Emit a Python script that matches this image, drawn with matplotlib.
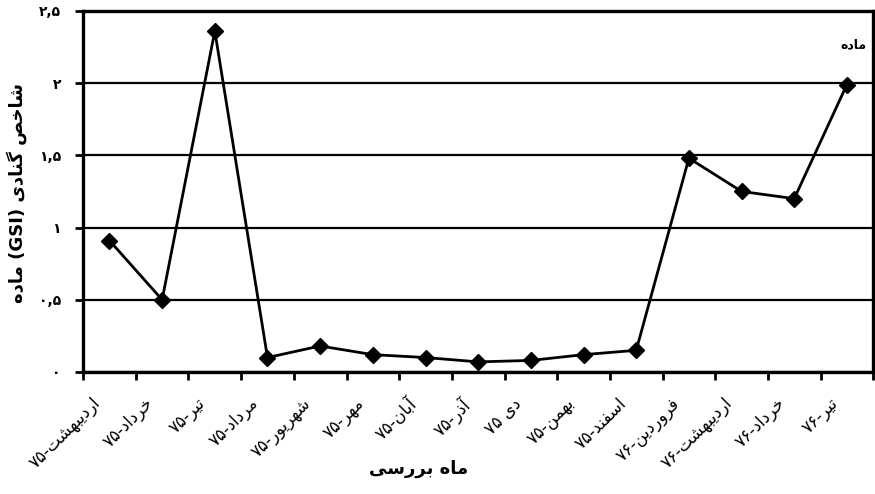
import re
import matplotlib
matplotlib.use('Agg')
import matplotlib.pyplot as plt
import numpy as np

# months of the study (logical Persian text)
months = ['اردیبهشت-۷۵', 'خرداد-۷۵', 'تیر-۷۵', 'مرداد-۷۵', 'شهریور-۷۵',
          'مهر-۷۵', 'آبان-۷۵', 'آذر-۷۵', 'دی ۷۵', 'بهمن-۷۵', 'اسفند-۷۵',
          'فروردین-۷۶', 'اردیبهشت-۷۶', 'خرداد-۷۶', 'تیر-۷۶']
gsi_female = [0.91, 0.50, 2.36, 0.10, 0.18, 0.12, 0.10, 0.07, 0.08,
              0.12, 0.15, 1.48, 1.25, 1.20, 1.99]
yticks = [0, 0.5, 1, 1.5, 2, 2.5]
ytick_labels = ['۰', '۰,۵', '۱', '۱,۵', '۲', '۲,۵']
ylabel = 'شاخص گنادی (GSI) ماده'
xlabel = 'ماه بررسی'
series_name = 'ماده'

# matplotlib has no arabic shaping, so do it by hand with presentation forms
# char: (isolated, final, initial, medial); 2-tuple = joins only to the right
FORMS = {
    'ا': (0xFE8D, 0xFE8E), 'آ': (0xFE81, 0xFE82),
    'ب': (0xFE8F, 0xFE90, 0xFE91, 0xFE92), 'ت': (0xFE95, 0xFE96, 0xFE97, 0xFE98),
    'خ': (0xFEA5, 0xFEA6, 0xFEA7, 0xFEA8), 'د': (0xFEA9, 0xFEAA),
    'ذ': (0xFEAB, 0xFEAC), 'ر': (0xFEAD, 0xFEAE),
    'س': (0xFEB1, 0xFEB2, 0xFEB3, 0xFEB4), 'ش': (0xFEB5, 0xFEB6, 0xFEB7, 0xFEB8),
    'ص': (0xFEB9, 0xFEBA, 0xFEBB, 0xFEBC), 'ف': (0xFED1, 0xFED2, 0xFED3, 0xFED4),
    'م': (0xFEE1, 0xFEE2, 0xFEE3, 0xFEE4), 'ن': (0xFEE5, 0xFEE6, 0xFEE7, 0xFEE8),
    'ه': (0xFEE9, 0xFEEA, 0xFEEB, 0xFEEC), 'و': (0xFEED, 0xFEEE),
    'ی': (0xFBFC, 0xFBFD, 0xFBFE, 0xFBFF), 'گ': (0xFB92, 0xFB93, 0xFB94, 0xFB95),
}
LETTERS = ''.join(FORMS)


def shape_word(w):
    out = []
    for i, c in enumerate(w):
        f = FORMS[c]
        prev_joins = i > 0 and len(FORMS[w[i-1]]) == 4
        next_joins = i < len(w) - 1 and len(f) == 4
        if prev_joins and next_joins:
            out.append(chr(f[3]))
        elif prev_joins:
            out.append(chr(f[1]))
        elif next_joins:
            out.append(chr(f[2]))
        else:
            out.append(chr(f[0]))
    return ''.join(reversed(out))


def rtl(s):
    runs = re.findall('[' + LETTERS + ']+|[0-9۰-۹,]+|[A-Za-z()]+|.', s)
    runs = [shape_word(r) if r[0] in FORMS else r for r in runs]
    return ''.join(reversed(runs))


fig = plt.figure(figsize=(8.75, 4.94), dpi=100)
ax = fig.add_axes([0.095, 0.247, 0.903, 0.731])

x = np.arange(len(months))
ax.plot(x, gsi_female, color='black', lw=2, marker='D', ms=8, zorder=3, clip_on=False)

ax.set_xlim(-0.5, len(months) - 0.5)
ax.set_ylim(0, 2.5)
ax.set_yticks(yticks)
ax.set_yticklabels(ytick_labels, fontsize=10, fontweight='bold')
ax.yaxis.grid(True, color='black', lw=1.6)
ax.set_axisbelow(True)

ax.set_xticks(np.arange(-0.5, len(months)), labels=[])
ax.set_xticks(x - 0.35, labels=[rtl(m) for m in months], minor=True,
              rotation=45, ha='right', rotation_mode='anchor', fontsize=12)
ax.tick_params(axis='x', which='major', direction='out', length=6, width=2)
ax.tick_params(axis='x', which='minor', length=0, pad=16)
ax.tick_params(axis='y', direction='out', length=6, width=2, pad=10)

for s in ax.spines.values():
    s.set_linewidth(2.4)

fig.text(0.019, 0.61, rtl(ylabel), rotation=90, ha='center', va='center',
         fontsize=13, fontweight='bold')
fig.text(0.478, 0.05, rtl(xlabel), ha='center', va='center',
         fontsize=13, fontweight='bold')
ax.text(0.975, 0.905, rtl(series_name), transform=ax.transAxes, ha='center',
        va='center', fontsize=9, fontweight='bold')

fig.savefig('out.png', dpi=100)
